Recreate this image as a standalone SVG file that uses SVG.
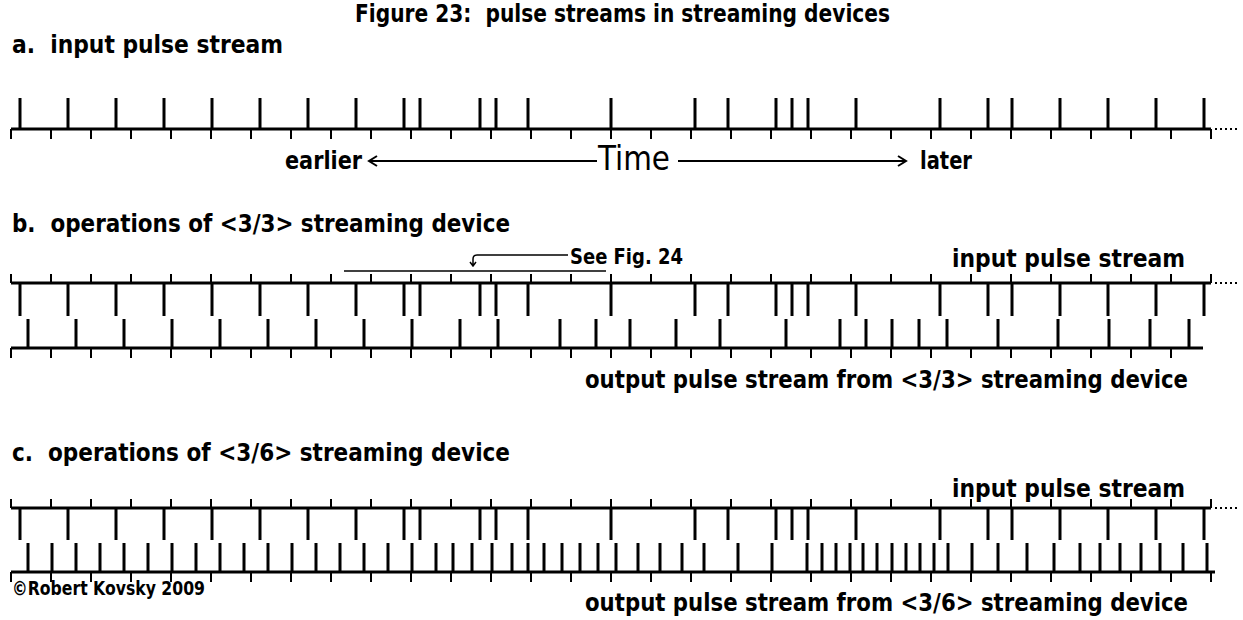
<svg xmlns="http://www.w3.org/2000/svg" width="1243" height="620" viewBox="0 0 1243 620">
<style>
  text { font-family: "Liberation Sans Narrow", "DejaVu Sans Condensed", "Liberation Sans", sans-serif; font-weight: bold; fill: #000; white-space: pre; }
  .lbl { font-size: 25px; }
  .base { stroke: #000; stroke-width: 3; fill: none; }
  .tick { stroke: #000; stroke-width: 2; fill: none; }
  .pulse { stroke: #000; stroke-width: 3; fill: none; }
  .thin { stroke: #000; stroke-width: 1.5; fill: none; }
  .arr { stroke: #000; stroke-width: 2; fill: none; }
  .dots { stroke: #000; stroke-width: 2; stroke-dasharray: 2 3; fill: none; }
</style>
<rect width="1243" height="620" fill="#fff"/>

<g id="titles">
  <text class="lbl" x="355" y="22" xml:space="preserve" textLength="535" lengthAdjust="spacingAndGlyphs">Figure 23:  pulse streams in streaming devices</text>
  <text class="lbl" x="12" y="53" xml:space="preserve" textLength="271" lengthAdjust="spacingAndGlyphs">a.  input pulse stream</text>
  <text class="lbl" x="12" y="232" xml:space="preserve" textLength="498" lengthAdjust="spacingAndGlyphs">b.  operations of &lt;3/3&gt; streaming device</text>
  <text class="lbl" x="12" y="461" xml:space="preserve" textLength="498" lengthAdjust="spacingAndGlyphs">c.  operations of &lt;3/6&gt; streaming device</text>
  <text x="12" y="595" style="font-size:20px" textLength="193" lengthAdjust="spacingAndGlyphs">©Robert Kovsky 2009</text>
</g>

<!-- Panel a -->
<g id="panel-a">
  <path class="base" d="M11,129 H1211"/>
  <path class="dots" d="M1215,129 H1238"/>
  <path class="tick" d="M11,129V139 M51,129V139 M91,129V139 M131,129V139 M171,129V139 M211,129V139 M251,129V139 M291,129V139 M331,129V139 M371,129V139 M411,129V139 M451,129V139 M491,129V139 M531,129V139 M571,129V139 M611,129V139 M651,129V139 M691,129V139 M731,129V139 M771,129V139 M811,129V139 M851,129V139 M891,129V139 M931,129V139 M971,129V139 M1011,129V139 M1051,129V139 M1091,129V139 M1131,129V139 M1171,129V139 M1211,129V139"/>
  <path class="pulse" d="M20,98V129 M68,98V129 M116,98V129 M164,98V129 M212,98V129 M260,98V129 M308,98V129 M356,98V129 M404,98V129 M420,98V129 M480,98V129 M496,98V129 M528,98V129 M611,98V129 M695,98V129 M728,98V129 M776,98V129 M792,98V129 M808,98V129 M856,98V129 M940,98V129 M988,98V129 M1012,98V129 M1060,98V129 M1108,98V129 M1156,98V129 M1204,98V129"/>
</g>

<g id="time-axis">
  <text class="lbl" x="285" y="169" textLength="77" lengthAdjust="spacingAndGlyphs">earlier</text>
  <text x="598" y="170" style="font-size:34px;font-weight:normal" textLength="72" lengthAdjust="spacingAndGlyphs">Time</text>
  <text class="lbl" x="920" y="169" textLength="52" lengthAdjust="spacingAndGlyphs">later</text>
</g>

<g id="connectors">
  <path class="arr" d="M369,161 H597 M377,156 L369,161 L377,166"/>
  <path class="arr" d="M678,161 H906 M898,156 L906,161 L898,166"/>
  <path class="thin" d="M344,271 H606"/>
  <path class="thin" d="M568,255 H477 Q473,255 473,259 V266 M470,262 L473,266 L476,262"/>
</g>

<!-- Panel b -->
<g id="panel-b">
  <text x="570" y="264" style="font-size:22px" textLength="113" lengthAdjust="spacingAndGlyphs">See Fig. 24</text>
  <text class="lbl" x="952" y="267" textLength="233" lengthAdjust="spacingAndGlyphs">input pulse stream</text>
  <text class="lbl" x="585" y="388" textLength="603" lengthAdjust="spacingAndGlyphs">output pulse stream from &lt;3/3&gt; streaming device</text>
  <path class="base" d="M11,283 H1211"/>
  <path class="dots" d="M1215,283 H1238"/>
  <path class="tick" d="M11,283V274 M51,283V274 M91,283V274 M131,283V274 M171,283V274 M211,283V274 M251,283V274 M291,283V274 M331,283V274 M371,283V274 M411,283V274 M451,283V274 M491,283V274 M531,283V274 M571,283V274 M611,283V274 M651,283V274 M691,283V274 M731,283V274 M771,283V274 M811,283V274 M851,283V274 M891,283V274 M931,283V274 M971,283V274 M1011,283V274 M1051,283V274 M1091,283V274 M1131,283V274 M1171,283V274 M1211,283V274"/>
  <path class="pulse" d="M20,283V316 M68,283V316 M116,283V316 M164,283V316 M212,283V316 M260,283V316 M308,283V316 M356,283V316 M404,283V316 M420,283V316 M480,283V316 M496,283V316 M528,283V316 M611,283V316 M695,283V316 M728,283V316 M776,283V316 M792,283V316 M808,283V316 M856,283V316 M940,283V316 M988,283V316 M1012,283V316 M1060,283V316 M1108,283V316 M1156,283V316 M1204,283V316"/>
  <path class="base" d="M11,348 H1203"/>
  <path class="tick" d="M11,348V358 M51,348V358 M91,348V358 M131,348V358 M171,348V358 M211,348V358 M251,348V358 M291,348V358 M331,348V358 M371,348V358 M411,348V358 M451,348V358 M491,348V358 M531,348V358 M571,348V358 M611,348V358 M651,348V358 M691,348V358 M731,348V358 M771,348V358 M811,348V358 M851,348V358 M891,348V358 M931,348V358 M971,348V358 M1011,348V358 M1051,348V358 M1091,348V358 M1131,348V358 M1171,348V358"/>
  <path class="pulse" d="M28,348V319 M76,348V319 M124,348V319 M172,348V319 M220,348V319 M268,348V319 M316,348V319 M364,348V319 M412,348V319 M460,348V319 M498,348V319 M560,348V319 M596,348V319 M630,348V319 M676,348V319 M720,348V319 M786,348V319 M840,348V319 M866,348V319 M892,348V319 M919,348V319 M947,348V319 M998,348V319 M1058,348V319 M1109,348V319 M1150,348V319 M1189,348V319"/>
</g>

<!-- Panel c -->
<g id="panel-c">
  <text class="lbl" x="952" y="497" textLength="233" lengthAdjust="spacingAndGlyphs">input pulse stream</text>
  <text class="lbl" x="585" y="611" textLength="603" lengthAdjust="spacingAndGlyphs">output pulse stream from &lt;3/6&gt; streaming device</text>
  <path class="base" d="M11,508 H1211"/>
  <path class="dots" d="M1215,508 H1238"/>
  <path class="tick" d="M11,508V499 M51,508V499 M91,508V499 M131,508V499 M171,508V499 M211,508V499 M251,508V499 M291,508V499 M331,508V499 M371,508V499 M411,508V499 M451,508V499 M491,508V499 M531,508V499 M571,508V499 M611,508V499 M651,508V499 M691,508V499 M731,508V499 M771,508V499 M811,508V499 M851,508V499 M891,508V499 M931,508V499 M971,508V499 M1011,508V499 M1051,508V499 M1091,508V499 M1131,508V499 M1171,508V499 M1211,508V499"/>
  <path class="pulse" d="M20,508V540 M68,508V540 M116,508V540 M164,508V540 M212,508V540 M260,508V540 M308,508V540 M356,508V540 M404,508V540 M420,508V540 M480,508V540 M496,508V540 M528,508V540 M611,508V540 M695,508V540 M728,508V540 M776,508V540 M792,508V540 M808,508V540 M856,508V540 M940,508V540 M988,508V540 M1012,508V540 M1060,508V540 M1108,508V540 M1156,508V540 M1204,508V540"/>
  <path class="base" d="M11,572 H1215"/>
  <path class="tick" d="M11,572V582 M51,572V582 M91,572V582 M131,572V582 M171,572V582 M211,572V582 M251,572V582 M291,572V582 M331,572V582 M371,572V582 M411,572V582 M451,572V582 M491,572V582 M531,572V582 M571,572V582 M611,572V582 M651,572V582 M691,572V582 M731,572V582 M771,572V582 M811,572V582 M851,572V582 M891,572V582 M931,572V582 M971,572V582 M1011,572V582 M1051,572V582 M1091,572V582 M1131,572V582 M1171,572V582 M1211,572V582"/>
  <path class="pulse" d="M28,572V543 M52,572V543 M76,572V543 M100,572V543 M124,572V543 M148,572V543 M172,572V543 M196,572V543 M220,572V543 M244,572V543 M268,572V543 M292,572V543 M316,572V543 M340,572V543 M364,572V543 M388,572V543 M412,572V543 M436,572V543 M453,572V543 M472,572V543 M492,572V543 M512,572V543 M528,572V543 M544,572V543 M562,572V543 M580,572V543 M598,572V543 M616,572V543 M638,572V543 M660,572V543 M682,572V543 M704,572V543 M738,572V543 M772,572V543 M807,572V543 M822,572V543 M836,572V543 M850,572V543 M863,572V543 M877,572V543 M892,572V543 M906,572V543 M920,572V543 M934,572V543 M948,572V543 M972,572V543 M998,572V543 M1027,572V543 M1054,572V543 M1080,572V543 M1100,572V543 M1120,572V543 M1141,572V543 M1160,572V543 M1183,572V543 M1207,572V543"/>
</g>
</svg>
